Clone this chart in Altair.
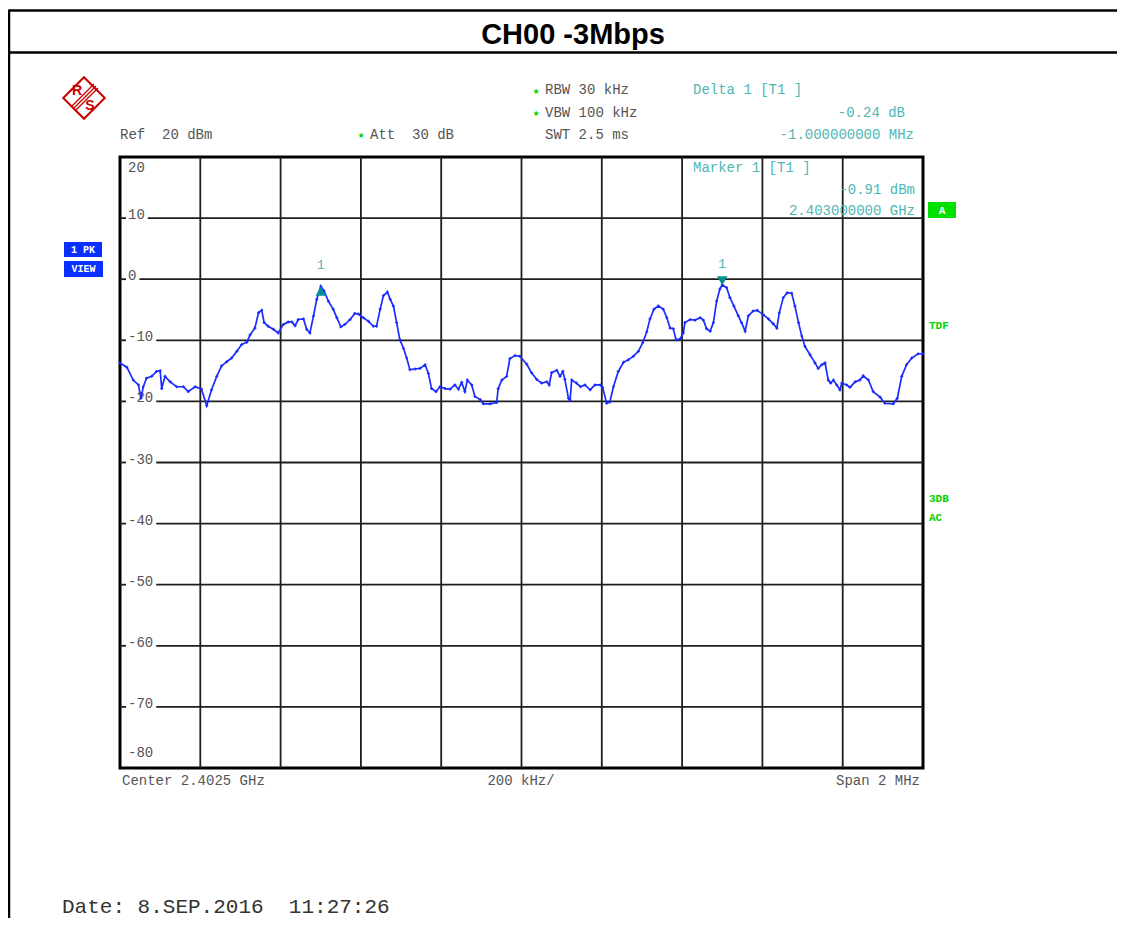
import altair as alt
import pandas as pd

# ---------------- data ----------------
# frequency offset from centre 2.4025 GHz, in kHz
freq_offset_khz = [
    -1000, -983, -967, -954, -948, -942, -934, -921, -909, -900, -896, -888, -875, -859, -842,
    -830, -813, -797, -784, -772, -759, -747, -734, -722, -709, -697, -684, -676, -664, -655,
    -647, -641, -631, -618, -606, -593, -581, -572, -564, -556, -543, -535, -527, -518, -510,
    -500, -492, -481, -469, -460, -450, -440, -427, -415, -406, -394, -381, -369, -361, -352,
    -344, -334, -327, -319, -311, -303, -294, -286, -278, -265, -253, -240, -232, -224, -213,
    -203, -190, -178, -166, -157, -149, -141, -135, -124, -116, -103, -95, -78, -62, -58,
    -49, -37, -29, -16, -4, 13, 25, 38, 50, 63, 69, 75, 88, 96, 103,
    108, 117, 121, 125, 137, 147, 158, 171, 183, 196, 202, 212, 220, 229, 241,
    254, 266, 279, 291, 302, 312, 320, 330, 341, 353, 362, 370, 378, 385, 395,
    403, 407, 420, 432, 445, 453, 461, 470, 478, 486, 494, 500, 511, 519, 529,
    540, 548, 557, 565, 577, 587, 602, 615, 627, 636, 642, 652, 662, 673, 681,
    690, 698, 706, 719, 731, 739, 748, 756, 764, 770, 777, 785, 793, 798, 810,
    818, 831, 843, 851, 864, 876, 893, 905, 926, 936, 947, 959, 972, 988, 1000,
]
level_dbm = [
    -13.7, -14.4, -16.5, -17.3, -19.5, -17.6, -16.2, -15.9, -15.1, -15.0, -17.9, -15.9, -16.8, -17.6, -17.6,
    -18.4, -17.6, -18.0, -20.7, -18.1, -15.9, -14.2, -13.5, -12.9, -11.8, -10.7, -10.3, -9.1, -8.0, -5.5,
    -5.1, -7.1, -7.7, -8.2, -8.8, -7.4, -7.0, -7.0, -7.6, -6.6, -6.5, -8.2, -8.8, -6.0, -3.3,
    -1.15, -1.9, -3.6, -4.9, -6.3, -7.8, -7.4, -6.6, -5.6, -5.7, -6.3, -6.9, -7.7, -7.7, -4.9,
    -2.7, -2.1, -3.3, -4.4, -7.1, -9.9, -11.3, -12.9, -14.8, -14.7, -14.6, -14.0, -15.4, -17.9, -18.4,
    -17.6, -17.9, -18.0, -17.3, -18.0, -16.9, -18.4, -16.5, -17.3, -19.2, -19.7, -20.4, -20.4, -20.2, -17.9,
    -16.5, -15.9, -13.0, -12.5, -12.6, -13.9, -15.3, -16.4, -17.0, -16.8, -17.3, -15.3, -14.9, -15.9, -15.1,
    -16.4, -19.5, -19.8, -16.5, -17.0, -17.6, -17.3, -18.1, -17.3, -17.3, -17.7, -20.3, -20.1, -17.6, -15.1,
    -13.6, -13.2, -12.6, -11.8, -10.4, -8.6, -6.5, -4.9, -4.4, -4.9, -6.3, -8.0, -8.1, -9.9, -9.8,
    -8.8, -7.1, -6.6, -6.7, -6.3, -6.7, -8.1, -8.5, -7.1, -3.6, -1.6, -0.91, -1.4, -3.0, -4.4,
    -6.0, -7.1, -8.5, -6.0, -5.2, -5.1, -5.8, -6.5, -7.3, -8.0, -5.5, -3.0, -2.2, -2.3, -4.4,
    -7.1, -9.3, -11.0, -12.4, -13.7, -14.6, -14.0, -13.7, -16.5, -17.0, -16.5, -17.3, -18.1, -17.0, -17.3,
    -17.7, -16.8, -16.5, -15.8, -16.5, -18.4, -19.3, -20.3, -20.4, -19.5, -15.9, -14.0, -12.9, -12.2, -12.2,
]

level_ticks = [20, 10, 0, -10, -20, -30, -40, -50, -60, -70, -80]
freq_grid_khz = [-800, -600, -400, -200, 0, 200, 400, 600, 800]

marker_freq_khz = [500]       # Marker 1 [T1] 2.403 GHz
marker_level = [-0.91]
delta_freq_khz = [-500]       # Delta 1 [T1] -1 MHz, -0.24 dB
delta_level = [-1.15]

# ---------------- styling ----------------
W, H = 803, 611
MONO = "Liberation Mono"
GRAY = "#555555"
TEAL = "#4fb6b6"
TEAL_D = "#00908f"
GREEN = "#00d400"
BLUE_BOX = "#0a30ff"
TRACE = "#1a2cff"
RED = "#cc0000"
GRID = "#1e1e1e"
NB = "\u00a0"

xs = alt.Scale(domain=[-1000, 1000], nice=False, zero=False)
ys = alt.Scale(domain=[-80, 20], nice=False, zero=False)


def one():
    return pd.DataFrame({"a": [0]})


def label(text, x, y, color=GRAY, size=14, align="left", weight="normal",
          font=MONO, baseline="middle"):
    return alt.Chart(pd.DataFrame({"t": [text]})).mark_text(
        align=align, baseline=baseline, font=font, fontSize=size,
        fontWeight=weight, color=color
    ).encode(x=alt.value(x), y=alt.value(y), text="t:N")


def rule(x1, x2, y1, y2, color="black", width=2.0):
    return alt.Chart(one()).mark_rule(color=color, strokeWidth=width).encode(
        x=alt.value(x1), x2=alt.value(x2), y=alt.value(y1), y2=alt.value(y2))


def box(x1, x2, y1, y2, color):
    return alt.Chart(one()).mark_rect(color=color).encode(
        x=alt.value(x1), x2=alt.value(x2), y=alt.value(y1), y2=alt.value(y2))


layers = []

# vertical grid
layers.append(
    alt.Chart(pd.DataFrame({"f": freq_grid_khz})).mark_rule(color=GRID, strokeWidth=1.8).encode(
        x=alt.X("f:Q", scale=xs, axis=None), y=alt.value(0), y2=alt.value(H))
)

# horizontal grid, interrupted by the labels
CHAR = 8.4
for lv in level_ticks[1:-1]:
    txt = str(lv)
    start = 8 + len(txt) * CHAR + 3
    d = pd.DataFrame({"lv": [lv]})
    layers.append(alt.Chart(d).mark_rule(color=GRID, strokeWidth=1.8).encode(
        y=alt.Y("lv:Q", scale=ys, axis=None), x=alt.value(start), x2=alt.value(W)))
    layers.append(alt.Chart(d).mark_rule(color=GRID, strokeWidth=1.8).encode(
        y=alt.Y("lv:Q", scale=ys, axis=None), x=alt.value(0), x2=alt.value(6)))

# level labels
mid = pd.DataFrame({"lv": level_ticks[1:-1], "t": [str(v) for v in level_ticks[1:-1]]})
layers.append(alt.Chart(mid).mark_text(align="left", baseline="alphabetic", font=MONO,
                                       fontSize=14, color=GRAY, dy=1).encode(
    x=alt.value(8), y=alt.Y("lv:Q", scale=ys, axis=None), text="t:N"))
top = pd.DataFrame({"lv": [level_ticks[0]], "t": [str(level_ticks[0])]})
layers.append(alt.Chart(top).mark_text(align="left", baseline="alphabetic", font=MONO,
                                       fontSize=14, color=GRAY, dy=15).encode(
    x=alt.value(8), y=alt.Y("lv:Q", scale=ys, axis=None), text="t:N"))
bot = pd.DataFrame({"lv": [level_ticks[-1]], "t": [str(level_ticks[-1])]})
layers.append(alt.Chart(bot).mark_text(align="left", baseline="alphabetic", font=MONO,
                                       fontSize=14, color=GRAY, dy=-11).encode(
    x=alt.value(8), y=alt.Y("lv:Q", scale=ys, axis=None), text="t:N"))

# trace
trace = pd.DataFrame({"f": freq_offset_khz, "p": level_dbm})
layers.append(alt.Chart(trace).mark_line(color=TRACE, strokeWidth=1.7).encode(
    x=alt.X("f:Q", scale=xs, axis=None), y=alt.Y("p:Q", scale=ys, axis=None)))
layers.append(alt.Chart(trace).mark_point(color=TRACE, shape="cross", filled=True, size=9,
                                          opacity=1).encode(
    x=alt.X("f:Q", scale=xs, axis=None), y=alt.Y("p:Q", scale=ys, axis=None)))

# markers
mk = pd.DataFrame({"f": marker_freq_khz, "p": marker_level, "t": ["1"]})
dl = pd.DataFrame({"f": delta_freq_khz, "p": delta_level, "t": ["1"]})
layers.append(alt.Chart(mk).mark_point(shape="triangle-down", filled=True, color=TEAL_D,
                                       size=110, opacity=1, yOffset=-4).encode(
    x=alt.X("f:Q", scale=xs, axis=None), y=alt.Y("p:Q", scale=ys, axis=None)))
layers.append(alt.Chart(dl).mark_point(shape="triangle-up", filled=True, color=TEAL_D,
                                       size=110, opacity=1, yOffset=5).encode(
    x=alt.X("f:Q", scale=xs, axis=None), y=alt.Y("p:Q", scale=ys, axis=None)))
for d in (mk, dl):
    layers.append(alt.Chart(d).mark_text(font=MONO, fontSize=13, color=TEAL, dy=-21,
                                         baseline="middle").encode(
        x=alt.X("f:Q", scale=xs, axis=None), y=alt.Y("p:Q", scale=ys, axis=None), text="t:N"))

# ---------- page frame and title ----------
layers.append(rule(-111, 1000, -146.5, -146.5, "black", 2.5))
layers.append(rule(-111, 1000, -104.5, -104.5, "black", 2.5))
layers.append(rule(-111, -111, -147.5, 800, "black", 2.5))
layers.append(label("CH00 -3Mbps", 453, -122, color="black", size=29, align="center",
                    weight="bold", font="Liberation Sans"))

# ---------- R&S logo ----------
layers.append(alt.Chart(one()).mark_point(shape="square", angle=45, filled=False, color=RED,
                                          size=860, strokeWidth=2, opacity=1).encode(
    x=alt.value(-36), y=alt.value(-59)))
for off in (-2, 0, 2):
    layers.append(rule(-24 + off, -47 + off, -71 + off, -48 + off, RED, 1.2))
layers.append(label("R", -43, -66, color=RED, size=14, align="center", weight="bold",
                    font="Liberation Sans"))
layers.append(label("S", -30, -51, color=RED, size=14, align="center", weight="bold",
                    font="Liberation Sans"))

# ---------- header texts ----------
STAR = "\u2605"
layers.append(label("Ref" + NB + NB + "20 dBm", 0, -22))
layers.append(label(STAR, 241, -21, color=GREEN, size=8, align="center", font="DejaVu Sans"))
layers.append(label("Att" + NB + NB + "30 dB", 250, -22))
layers.append(label(STAR, 416, -65, color=GREEN, size=8, align="center", font="DejaVu Sans"))
layers.append(label("RBW 30 kHz", 425, -67))
layers.append(label(STAR, 416, -43, color=GREEN, size=8, align="center", font="DejaVu Sans"))
layers.append(label("VBW 100 kHz", 425, -44))
layers.append(label("SWT 2.5 ms", 425, -22))
layers.append(label("Delta 1 [T1 ]", 573, -67, color=TEAL))
layers.append(label("-0.24 dB", 785, -44, color=TEAL, align="right"))
layers.append(label("-1.000000000 MHz", 794, -22, color=TEAL, align="right"))
layers.append(label("Marker 1 [T1 ]", 573, 11, color=TEAL))
layers.append(label("-0.91 dBm", 795, 33, color=TEAL, align="right"))
layers.append(label("2.403000000 GHz", 795, 54, color=TEAL, align="right"))

# ---------- side indicators ----------
layers.append(box(808, 836, 45, 61, "#00e000"))
layers.append(label("A", 822, 53.5, color="white", size=11, align="center", weight="bold"))
layers.append(label("TDF", 809, 169, color=GREEN, size=11, weight="bold"))
layers.append(label("3DB", 809, 342, color=GREEN, size=11, weight="bold"))
layers.append(label("AC", 809, 361, color=GREEN, size=11, weight="bold"))
layers.append(box(-56, -18, 85, 100, BLUE_BOX))
layers.append(label("1 PK", -37, 92.5, color="white", size=10, align="center", weight="bold"))
layers.append(box(-56, -17, 104, 120, BLUE_BOX))
layers.append(label("VIEW", -36.5, 112, color="white", size=10, align="center", weight="bold"))

# ---------- footer texts ----------
layers.append(label("Center 2.4025 GHz", 2, 624))
layers.append(label("200 kHz/", 401, 624, align="center"))
layers.append(label("Span 2 MHz", 800, 624, align="right"))
layers.append(label("Date: 8.SEP.2016" + NB + NB + "11:27:26", -58, 750, color="#333333",
                    size=21))

chart = alt.layer(*layers).properties(
    width=W, height=H,
    autosize=alt.AutoSizeParams(type="none"),
    padding={"left": 112, "top": 149, "right": 194, "bottom": 150},
    background="white",
).configure_view(stroke="black", strokeWidth=3)

chart.save("out.html", embed_options={"renderer": "svg", "actions": False})
